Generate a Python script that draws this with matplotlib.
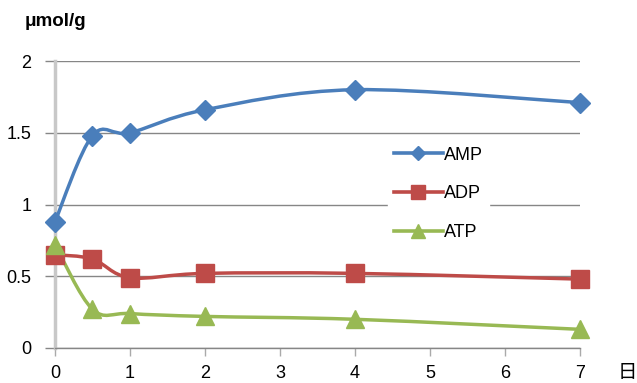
import matplotlib
matplotlib.use('Agg')
import matplotlib.pyplot as plt
import numpy as np
from matplotlib.path import Path
from matplotlib.patches import PathPatch
from matplotlib.lines import Line2D

plt.rcParams['font.family'] = ['Liberation Sans', 'Noto Sans CJK SC']

# data
days = [0, 0.5, 1, 2, 4, 7]
amp = [0.88, 1.48, 1.50, 1.66, 1.80, 1.71]
adp = [0.65, 0.62, 0.49, 0.52, 0.52, 0.48]
atp = [0.72, 0.27, 0.24, 0.22, 0.20, 0.13]
names = ['AMP', 'ADP', 'ATP']
colors = ['#4A7EBB', '#BE4B48', '#98B954']
markers = ['D', 's', '^']
msizes = [10, 13, 13]


def smooth_path(x, y):
    # Excel-like smoothed line: cubic Bezier through the points
    p = np.column_stack([x, y]).astype(float)
    n = len(p)
    verts = [p[0]]
    codes = [Path.MOVETO]
    for i in range(n - 1):
        p0 = p[i - 1] if i > 0 else p[i]
        p3 = p[i + 2] if i + 2 < n else p[i + 1]
        c1 = p[i] + (p[i + 1] - p0) / 6
        c2 = p[i + 1] - (p3 - p[i]) / 6
        verts += [c1, c2, p[i + 1]]
        codes += [Path.CURVE4] * 3
    return Path(verts, codes)


fig = plt.figure(figsize=(6.37, 3.83), dpi=100)
ax = fig.add_axes([0.0863, 0.0914, 0.8242, 0.7493])

for vals, c, m, ms in zip([amp, adp, atp], colors, markers, msizes):
    ax.add_patch(PathPatch(smooth_path(days, vals), facecolor='none',
                           edgecolor=c, lw=2.5, zorder=3, clip_on=False))
    ax.plot(days, vals, ls='none', marker=m, ms=ms, color=c, zorder=4, clip_on=False)

ax.set_xlim(0, 7)
ax.set_ylim(0, 2)
ax.set_xticks(range(8))
ax.set_yticks([0, 0.5, 1, 1.5, 2])
ax.set_yticklabels(['0', '0.5', '1', '1.5', '2'])
ax.grid(axis='y', color='#868686', lw=1)
ax.set_axisbelow(True)
for s in ['top', 'right']:
    ax.spines[s].set_visible(False)
ax.spines['left'].set_color('#C8C8C8')
ax.spines['left'].set_linewidth(2.5)
ax.spines['bottom'].set_color('#868686')
ax.spines['bottom'].set_linewidth(1)
ax.tick_params(axis='y', length=7, color='#868686', width=1, labelsize=13, pad=10)
ax.tick_params(axis='x', length=6, color='#AAAAAA', width=1, labelsize=13, pad=6)

handles = [Line2D([], [], color=c, lw=2.6, marker=m, ms=ms * 0.75)
           for c, m, ms in zip(colors, markers, msizes)]
leg = ax.legend(handles, names, loc='upper left', bbox_to_anchor=(0.635, 0.72),
                frameon=True, fancybox=False, facecolor='white', edgecolor='white',
                framealpha=1, fontsize=13, labelspacing=1.2, handlelength=2.7,
                handletextpad=0.1, borderpad=0.3, borderaxespad=0)
leg.set_zorder(5)

fig.text(0.038, 0.945, 'μmol/g', fontsize=13.5, fontweight='bold', va='center')
fig.text(0.985, 0.025, '日', fontsize=14, ha='center', va='center')

plt.savefig('out.png', dpi=100)
